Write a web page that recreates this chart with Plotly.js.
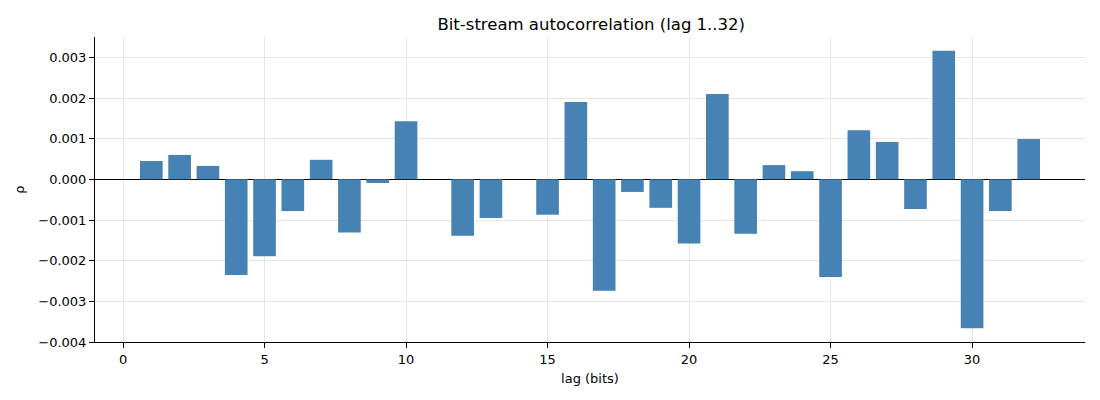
<!DOCTYPE html>
<html>
<head>
<meta charset="utf-8">
<script src="https://cdn.plot.ly/plotly-3.0.1.min.js"></script>
<style>
  html, body { margin: 0; padding: 0; background: #fff; }
  #chart { width: 1100px; height: 400px; }
</style>
</head>
<body>
<div id="chart"></div>
<script>
// Lags 1..32 and the autocorrelation
const lags = [];
for (let i = 1; i <= 32; i++) lags.push(i);

const rho = [
    0.00045, 0.00060, 0.00033, -0.00235, -0.00189, -0.00078, 0.00048, -0.00131,
    -0.00009, 0.00143, 0.0, -0.00139, -0.00095, 0.0, -0.00087, 0.00190,
    -0.00274, -0.00031, -0.00070, -0.00158, 0.00210, -0.00134, 0.00035, 0.00020,
    -0.00240, 0.00121, 0.00092, -0.00073, 0.00316, -0.00366, -0.00078, 0.00099,
];

const xTicks = [0, 5, 10, 15, 20, 25, 30];
const yTicks = [-0.004, -0.003, -0.002, -0.001, 0, 0.001, 0.002, 0.003];

const font = { family: "DejaVu Sans, sans-serif", size: 13, color: "#000" };

Plotly.newPlot("chart", [{
    type: "bar",
    x: lags,
    y: rho,
    width: 0.8,
    marker: { color: "#4682b4", line: { width: 0 } },
    hoverinfo: "x+y",
}], {
    width: 1100,
    height: 400,
    font: font,
    paper_bgcolor: "#fff",
    plot_bgcolor: "#fff",
    margin: { l: 95, r: 15, t: 37, b: 58 },
    showlegend: false,
    title: {
        text: "Bit-stream autocorrelation (lag 1..32)",
        font: { family: font.family, size: 16.5, color: "#000" },
        x: 0.5375, xanchor: "center",
        y: 0.94, yanchor: "middle",
    },
    xaxis: {
        range: [-0.99, 33.99],
        tickvals: xTicks,
        ticks: "outside", ticklen: 5, tickcolor: "#000",
        showgrid: true, gridcolor: "#e6e6e6", gridwidth: 1,
        showline: true, linecolor: "#000", linewidth: 1,
        zeroline: false,
        title: { text: "lag (bits)", font: font, standoff: 8 },
    },
    yaxis: {
        range: [-0.004, 0.0035],
        tickvals: yTicks,
        tickformat: ".3f",
        ticks: "outside", ticklen: 5, tickcolor: "#000",
        showgrid: true, gridcolor: "#e6e6e6", gridwidth: 1,
        showline: true, linecolor: "#000", linewidth: 1,
        zeroline: true, zerolinecolor: "#000", zerolinewidth: 1,
        title: { text: "ρ", font: font, standoff: 10 },
    },
}, { displayModeBar: false });
</script>
</body>
</html>
